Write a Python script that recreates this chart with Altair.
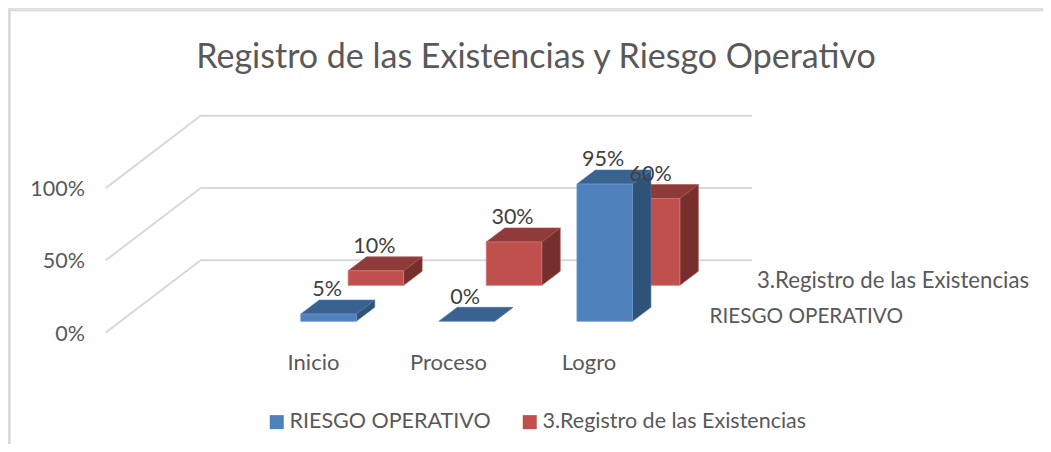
import altair as alt
import pandas as pd

# --- data ---
categories = ["Inicio", "Proceso", "Logro"]
riesgo = [5, 0, 95]
registro = [10, 30, 60]
series_names = ["RIESGO OPERATIVO", "3.Registro de las Existencias"]
y_ticks = [0, 50, 100]
title_text = "Registro de las Existencias y Riesgo Operativo"

# --- layout constants (page pixels) ---
W, H = 1035, 436
PX_ORIGIN_X, PX_ORIGIN_Y = 328.5, 321.3     # foot of first front bar
PX_PER_CAT, PX_PER_PCT = 138.1, 1.445
FONT = "Lato"
TXT = "#595959"
LBL = "#404040"

def ux(px): return (px - PX_ORIGIN_X) / PX_PER_CAT
def uy(py): return (PX_ORIGIN_Y - py) / PX_PER_PCT
def dux(px): return px / PX_PER_CAT
def duy(px): return px / PX_PER_PCT

x_scale = alt.Scale(domain=[ux(8), ux(8 + W)], nice=False, zero=False)
y_scale = alt.Scale(domain=[uy(8 + H), uy(8)], nice=False, zero=False)
X = lambda f: alt.X(f, type="quantitative", scale=x_scale, axis=None)
Y = lambda f: alt.Y(f, type="quantitative", scale=y_scale, axis=None)

bar_w = dux(55.5)
depth_x, depth_y = dux(18.5), duy(14)
step_x, step_y = dux(47.4), duy(36)

front, top, side = [], [], []
for s, (name, vals) in enumerate(zip(series_names, [riesgo, registro])):
    for i, v in enumerate(vals):
        x0 = i + s * step_x - bar_w / 2
        x1 = x0 + bar_w
        base = s * step_y
        t = base + v
        bid = f"{s}-{i}"
        front.append(dict(series=name, x=x0, x2=x1, y=base, y2=t, cat=categories[i], value=v))
        top.append(dict(series=name, bar=bid, y=t, x=x0, x2=x1))
        top.append(dict(series=name, bar=bid, y=t + depth_y, x=x0 + depth_x, x2=x1 + depth_x))
        side.append(dict(series=name, bar=bid, x=x1, y=base, y2=t))
        side.append(dict(series=name, bar=bid, x=x1 + depth_x, y=base + depth_y, y2=t + depth_y))
front, top, side = map(pd.DataFrame, (front, top, side))

# gridlines: front-left edge, back-left corner, back-right end
grid = []
for p in y_ticks:
    grid.append(dict(tick=p, ord=0, x=ux(105.7), y=uy(332.6) + p))
    grid.append(dict(tick=p, ord=1, x=ux(200.7), y=uy(260.2) + p))
    grid.append(dict(tick=p, ord=2, x=ux(752.0), y=uy(260.2) + p))
grid = pd.DataFrame(grid)

color_scale = alt.Scale(domain=series_names, range=["#4F81BD", "#C0504D"])
legend = alt.Legend(
    title=None, orient="none", legendX=258, legendY=403, direction="horizontal",
    symbolType="square", symbolSize=196, symbolStrokeWidth=0, symbolOpacity=1,
    labelFont=FONT, labelFontSize=21.5, labelColor=TXT, labelLimit=400,
    columnPadding=28, symbolOffset=0, labelOffset=2,
)

TOP_COL = {series_names[0]: "#3A6291", series_names[1]: "#8E3B39"}
SIDE_COL = {series_names[0]: "#2F5278", series_names[1]: "#772F2D"}
EDGE_FRONT = {series_names[0]: "#6F9BD1", series_names[1]: "#D27572"}
EDGE_BACK = {series_names[0]: "#4A76A8", series_names[1]: "#A64F4C"}

layers = []
# chart frame
frame = pd.DataFrame({"x": [ux(9.7), ux(9.7), ux(8 + W)], "y": [uy(8 + H), uy(10.3), uy(10.3)], "o": [0, 1, 2]})
layers.append(alt.Chart(frame).mark_line(color="#D9D9D9", strokeWidth=2).encode(
    x=X("x"), y=Y("y"), order="o:O"))
layers.append(alt.Chart(grid).mark_line(color="#D9D9D9", strokeWidth=2).encode(
    x=X("x"), y=Y("y"), detail="tick:N", order="ord:O"))

for name in reversed(series_names):
    layers.append(alt.Chart(side[side.series == name]).mark_area(
        orient="vertical", color=SIDE_COL[name], stroke=EDGE_BACK[name], strokeWidth=0.6).encode(
        x=X("x"), y=Y("y"), y2="y2:Q", detail="bar:N"))
    layers.append(alt.Chart(top[top.series == name]).mark_area(
        orient="horizontal", color=TOP_COL[name], stroke=EDGE_BACK[name], strokeWidth=0.6).encode(
        y=Y("y"), x=X("x"), x2="x2:Q", detail="bar:N"))
    layers.append(alt.Chart(front[(front.series == name) & (front.value > 0)]).mark_rect(
        stroke=EDGE_FRONT[name], strokeWidth=0.8).encode(
        x=X("x"), x2="x2:Q", y=Y("y"), y2="y2:Q",
        color=alt.Color("series:N", scale=color_scale, legend=legend)))

# data labels
lab = front.copy()
lab["text"] = lab["value"].astype(str) + "%"
lab["lx"] = (lab["x"] + lab["x2"]) / 2 - dux(1.5)
lab["ly"] = lab["y2"] + duy(23.8)
layers.append(alt.Chart(lab).mark_text(font=FONT, fontSize=21.5, color=LBL, baseline="middle").encode(
    x=X("lx"), y=Y("ly"), text="text:N"))

# value axis labels
tk = pd.DataFrame({"p": y_ticks})
tk["text"] = tk["p"].astype(str) + "%"
tk["x"] = ux(85)
tk["y"] = uy(334.6) + tk["p"]
layers.append(alt.Chart(tk).mark_text(font=FONT, fontSize=21.5, color=TXT, align="right", baseline="middle").encode(
    x=X("x"), y=Y("y"), text="text:N"))

# category labels
ct = pd.DataFrame({"text": categories, "x": [ux(313.5), ux(448.5), ux(589)], "y": [uy(363)] * 3})
layers.append(alt.Chart(ct).mark_text(font=FONT, fontSize=22, color=TXT, baseline="middle").encode(
    x=X("x"), y=Y("y"), text="text:N"))

# depth axis labels
dp1 = pd.DataFrame({"text": [series_names[1]], "x": [ux(757)], "y": [uy(281)]})
dp0 = pd.DataFrame({"text": [series_names[0]], "x": [ux(709.5)], "y": [uy(316.5)]})
layers.append(alt.Chart(dp1).mark_text(font=FONT, fontSize=22.2, color=TXT, align="left", baseline="middle").encode(
    x=X("x"), y=Y("y"), text="text:N"))
layers.append(alt.Chart(dp0).mark_text(font=FONT, fontSize=20.7, color=TXT, align="left", baseline="middle").encode(
    x=X("x"), y=Y("y"), text="text:N"))

chart = alt.layer(*layers).properties(
    width=W, height=H,
    padding=0,
    autosize=alt.AutoSizeParams(type="none"),
    title=alt.TitleParams(title_text, anchor="middle", font=FONT, fontSize=34, fontWeight="normal",
                          color=TXT, dx=10.5, dy=69, offset=0),
).configure_view(stroke=None).configure(background="white")

chart.save("out.html", embed_options={"renderer": "svg", "actions": False})
